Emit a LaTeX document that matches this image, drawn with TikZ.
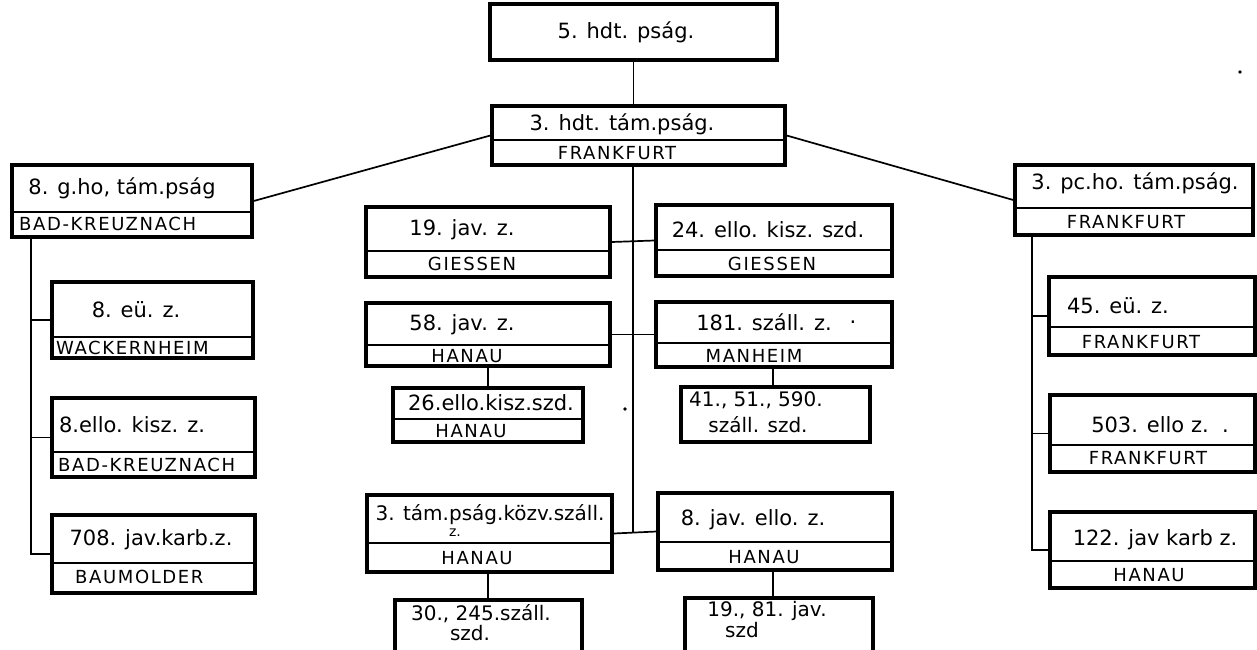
\documentclass[tikz,border=0pt]{standalone}
\usepackage{fontspec}
\setmainfont{DejaVu Sans}
\newfontfamily\locfont[LetterSpace=9]{DejaVu Sans}
\usetikzlibrary{fit}
\begin{document}
\begin{tikzpicture}[x=1pt,y=-1pt,
  box/.style={draw, line width=3.4pt, inner sep=0pt, rectangle},
  dv/.style={line width=1.8pt},
  conn/.style={line width=1.7pt},
  ttl/.style={inner sep=0pt, font=\fontsize{21}{23}\selectfont},
  ttls/.style={inner sep=0pt, font=\fontsize{20}{22}\selectfont},
  sm/.style={inner sep=0pt, font=\fontsize{20}{22}\selectfont},
  tiny/.style={inner sep=0pt, font=\fontsize{14}{15}\selectfont},
  loc/.style={inner sep=0pt, font=\locfont\fontsize{18}{20}\selectfont}]
\useasboundingbox (0,0) rectangle (1257,649);
\fill[white] (0,0) rectangle (1257,649);
\clip (0,0) rectangle (1257,649);

% ---------- boxes ----------
\node[box, fit={(490,4) (777,60)}] (top) {};
\node[box, fit={(492,106) (785,165)}] (hdt) {};
\draw[dv] (492,140) -- (785,140);

\node[box, fit={(12,165) (252,237)}] (lb) {};
\draw[dv] (12,212) -- (252,212);
\node[box, fit={(52,282) (253,358)}] (l1) {};
\draw[dv] (52,337) -- (253,337);
\node[box, fit={(52,398) (255,477)}] (l2) {};
\draw[dv] (52,452) -- (255,452);
\node[box, fit={(52,515) (255,593)}] (l3) {};
\draw[dv] (52,563) -- (255,563);

\node[box, fit={(1015,165) (1253,235)}] (rb) {};
\draw[dv] (1015,208) -- (1253,208);
\node[box, fit={(1049,277) (1255,355)}] (r1) {};
\draw[dv] (1049,327) -- (1255,327);
\node[box, fit={(1050,395) (1255,472)}] (r2) {};
\draw[dv] (1050,445) -- (1255,445);
\node[box, fit={(1050,512) (1255,588)}] (r3) {};
\draw[dv] (1050,561) -- (1255,561);

\node[box, fit={(366,207) (610,277)}] (c19) {};
\draw[dv] (366,251) -- (610,251);
\node[box, fit={(656,205) (892,276)}] (c24) {};
\draw[dv] (656,250) -- (892,250);
\node[box, fit={(366,303) (610,366)}] (c58) {};
\draw[dv] (366,345) -- (610,345);
\node[box, fit={(656,302) (892,367)}] (c181) {};
\draw[dv] (656,343) -- (892,343);
\node[box, fit={(393,388) (583,442)}] (c26) {};
\draw[dv] (393,419) -- (583,419);
\node[box, fit={(681,387) (870,442)}] (c41) {};
\node[box, fit={(367,495) (612,572)}] (ctam) {};
\draw[dv] (367,543) -- (612,543);
\node[box, fit={(658,493) (892,570)}] (cjav) {};
\draw[dv] (658,542) -- (892,542);
\node[box, fit={(395,600) (582,680)}] (c30) {};
\node[box, fit={(685,598) (873,680)}] (c1981) {};

% ---------- texts ----------
\node[ttl] (top-t) at (626,32) {5. hdt. pság.};
\node[ttl] (hdt-t) at (622,124) {3. hdt. tám.pság.};
\node[loc] (hdt-l) at (617,153) {FRANKFURT};

\node[ttl] (lb-t) at (122,188) {8. g.ho, tám.pság};
\node[loc, anchor=west] (lb-l) at (19,224) {BAD-KREUZNACH};
\node[ttl] (l1-t) at (136,310) {8. eü. z.};
\node[loc, anchor=west] (l1-l) at (56,348) {WACKERNHEIM};
\node[ttl] (l2-t) at (132,425) {8.ello. kisz. z.};
\node[loc, anchor=west] (l2-l) at (58,465) {BAD-KREUZNACH};
\node[ttl] (l3-t) at (151,540) {708. jav.karb.z.};
\node[loc, anchor=west] (l3-l) at (75,577) {BAUMOLDER};

\node[ttl] (rb-t) at (1135,183) {3. pc.ho. tám.pság.};
\node[loc] (rb-l) at (1126,222) {FRANKFURT};
\node[ttl] (r1-t) at (1118,306) {45. eü. z.};
\node[loc] (r1-l) at (1141,342) {FRANKFURT};
\node[ttl] (r2-t) at (1160,425) {503. ello z.\ \ .};
\node[loc] (r2-l) at (1148,458) {FRANKFURT};
\node[ttl] (r3-t) at (1155,540) {122. jav karb z.};
\node[loc] (r3-l) at (1149,575) {HANAU};

\node[ttl] (c19-t) at (462,230) {19. jav. z.};
\node[loc] (c19-l) at (472,264) {GIESSEN};
\node[ttl] (c24-t) at (768,230) {24. ello. kisz. szd.};
\node[loc] (c24-l) at (772,264) {GIESSEN};
\node[ttl] (c58-t) at (462,325) {58. jav. z.};
\node[loc] (c58-l) at (467,356) {HANAU};
\node[ttl] (c181-t) at (764,322) {181. száll. z.};
\node[ttl] (c181-d) at (853,322) {.};
\node[loc] (c181-l) at (754,356) {MANHEIM};
\node[ttl] (c26-t) at (491,403) {26.ello.kisz.szd.};
\node[loc] (c26-l) at (471,431) {HANAU};
\node[sm] (c41-t) at (756,400) {41., 51., 590.};
\node[sm] (c41-s) at (758,425) {száll. szd.};
\node[ttls] (ctam-t) at (490,515) {3. tám.pság.közv.száll.};
\node[tiny] (ctam-z) at (455,533) {z.};
\node[loc] (ctam-l) at (477,558) {HANAU};
\node[ttl] (cjav-t) at (753,520) {8. jav. ello. z.};
\node[loc] (cjav-l) at (764,557) {HANAU};
\node[sm] (c30-t) at (481,614) {30., 245.száll.};
\node[sm] (c30-s) at (470,633) {szd.};
\node[sm] (c1981-t) at (767,611) {19., 81. jav.};
\node[sm] (c1981-s) at (742,630) {szd};

% ---------- connectors ----------
\draw[conn] (top.south) -- (top.south |- hdt.north);
\draw[conn] (hdt.west) -- (lb.east);
\draw[conn] (hdt.east) -- (rb.west);

\coordinate (trunk) at (633,533);
\draw[conn] (hdt.south -| trunk) -- (trunk);
\draw[conn] (c19.east) -- (c24.west);
\draw[conn] (c58.east) -- (c181.west);
\draw[conn] (ctam.east) -- (cjav.west);

\draw[conn] (c58.south) -- (c26.north -| c58.south);
\coordinate (v181) at (773,0);
\draw[conn] (c181.south -| v181) -- (c41.north -| v181);
\draw[conn] (ctam.south -| c58.south) -- (c30.north -| c58.south);
\draw[conn] (cjav.south -| v181) -- (c1981.north -| v181);

\coordinate (lv) at (31,0);
\draw[conn] (lb.south -| lv) |- (l3.west);
\draw[conn] (l1.west) -- (l1.west -| lv);
\draw[conn] (l2.west) -- (l2.west -| lv);

\coordinate (rv) at (1032,0);
\draw[conn] (rb.south -| rv) |- (r3.west);
\draw[conn] (r1.west) -- (r1.west -| rv);
\draw[conn] (r2.west) -- (r2.west -| rv);

% specks
\fill (1240,72) circle (1.8);
\fill (625,409) circle (1.8);
\end{tikzpicture}
\end{document}
